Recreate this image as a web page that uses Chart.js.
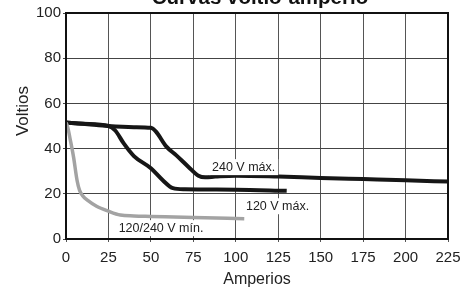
<!DOCTYPE html>
<html>
<head>
<meta charset="utf-8">
<script src="https://cdn.jsdelivr.net/npm/chart.js@4"></script>
<style>
  html, body { margin: 0; padding: 0; background: #fff; }
  #wrap { width: 470px; height: 289px; }
</style>
</head>
<body>
<div id="wrap"><canvas id="chart" width="470" height="289"></canvas></div>
<script>
const FONT = "'Liberation Sans', Arial, sans-serif";

// 240 V max curve
const amps240 = [0, 10, 25, 40, 50, 53, 59, 65, 72, 78, 82, 88, 100, 125, 150, 175, 200, 225];
const volts240 = [51.5, 51, 50, 49.5, 49.2, 47.5, 41, 37, 32, 28, 27.3, 27.6, 28, 27.6, 27, 26.5, 26, 25.4];

// 120 V max curve
const amps120 = [0, 10, 25, 29, 34, 40, 50, 57, 63, 70, 100, 130];
const volts120 = [51.5, 51, 50, 48, 42.3, 36.7, 31.3, 26, 22.5, 22, 21.8, 21.3];

// 120/240 V min curve
const ampsMin = [0, 1, 2.5, 4.5, 6.5, 8, 10, 13, 18, 25, 32, 40, 50, 75, 105];
const voltsMin = [51.5, 49.5, 44, 36, 26, 21.5, 19, 17, 14.5, 12.3, 10.6, 10.2, 10, 9.5, 9];

const xTicks = [0, 25, 50, 75, 100, 125, 150, 175, 200, 225];
const yTicks = [0, 20, 40, 60, 80, 100];

// curve labels: [text, amps, volts]
const curveLabels = [
  ['240 V máx.', 86, 31.8],
  ['120 V máx.', 106, 14.5],
  ['120/240 V mín.', 31, 4.8]
];

function pts(xs, ys) {
  return xs.map((x, i) => ({ x: x, y: ys[i] }));
}

const extras = {
  id: 'extras',
  afterDraw(chart) {
    const ctx = chart.ctx;
    const xs = chart.scales.x, ys = chart.scales.y;
    const a = chart.chartArea;
    ctx.save();
    // curve labels with white boxes
    ctx.font = '12.5px ' + FONT;
    ctx.textBaseline = 'middle';
    ctx.textAlign = 'left';
    curveLabels.forEach(([t, ax, vy]) => {
      const px = xs.getPixelForValue(ax);
      const py = ys.getPixelForValue(vy);
      const w = ctx.measureText(t).width;
      ctx.fillStyle = '#fff';
      ctx.fillRect(px - 3, py - 8, w + 6, 16);
      ctx.fillStyle = '#222';
      ctx.fillText(t, px, py);
    });
    // frame
    ctx.strokeStyle = '#111';
    ctx.lineWidth = 2;
    ctx.strokeRect(a.left, a.top, a.right - a.left, a.bottom - a.top);
    // y title
    ctx.fillStyle = '#222';
    ctx.font = '17px ' + FONT;
    ctx.translate(23, 111);
    ctx.rotate(-Math.PI / 2);
    ctx.textAlign = 'center';
    ctx.textBaseline = 'middle';
    ctx.fillText('Voltios', 0, 0);
    ctx.restore();
    // chart title, cut off at the top
    ctx.save();
    ctx.fillStyle = '#111';
    ctx.font = 'bold 20.5px ' + FONT;
    ctx.textAlign = 'center';
    ctx.textBaseline = 'alphabetic';
    ctx.fillText('Curvas voltio-amperio', 260, 4);
    ctx.restore();
  }
};

const lineDefaults = {
  showLine: true,
  pointRadius: 0,
  fill: false,
  cubicInterpolationMode: 'monotone',
  borderCapStyle: 'butt',
  borderJoinStyle: 'round'
};

new Chart(document.getElementById('chart'), {
  type: 'scatter',
  data: {
    datasets: [
      Object.assign({ label: '120/240 V mín.', data: pts(ampsMin, voltsMin), borderColor: '#a3a3a3', borderWidth: 3.5 }, lineDefaults),
      Object.assign({ label: '120 V máx.', data: pts(amps120, volts120), borderColor: '#161616', borderWidth: 4 }, lineDefaults),
      Object.assign({ label: '240 V máx.', data: pts(amps240, volts240), borderColor: '#161616', borderWidth: 4 }, lineDefaults)
    ]
  },
  options: {
    responsive: false,
    animation: false,
    layout: { padding: { top: 13, right: 22, left: 0, bottom: 0 } },
    plugins: {
      legend: { display: false },
      tooltip: { enabled: false }
    },
    scales: {
      x: {
        type: 'linear',
        min: 0,
        max: 225,
        afterFit(s) { s.height = 50; },
        afterBuildTicks(s) { s.ticks = xTicks.map(v => ({ value: v })); },
        grid: { color: '#555', lineWidth: 1, tickLength: 3 },
        border: { display: false },
        ticks: { color: '#222', font: { family: FONT, size: 15 }, padding: 7, maxRotation: 0 },
        title: { display: true, text: 'Amperios', color: '#222', font: { family: FONT, size: 16 }, padding: { top: 0, bottom: 0 } }
      },
      y: {
        min: 0,
        max: 100,
        afterFit(s) { s.width = 66; },
        afterBuildTicks(s) { s.ticks = yTicks.map(v => ({ value: v })); },
        grid: { color: '#444', lineWidth: 1, tickLength: 3 },
        border: { display: false },
        ticks: { color: '#222', font: { family: FONT, size: 15 }, padding: 2 }
      }
    }
  },
  plugins: [extras]
});
</script>
</body>
</html>
